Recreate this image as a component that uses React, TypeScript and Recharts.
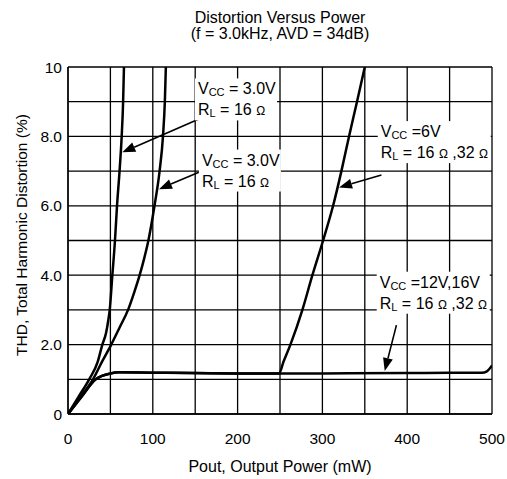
import React from 'react';
import { LineChart, Line, XAxis, YAxis, CartesianGrid, ReferenceDot, ReferenceLine } from 'recharts';

// ---- data (Pout in mW, THD in %) ----
const xTicks = [0, 50, 100, 150, 200, 250, 300, 350, 400, 450, 500];
const yTicks = [0, 1, 2, 3, 4, 5, 6, 7, 8, 9, 10];

const powerA = [0, 12, 25, 35, 40.5, 45, 47.5, 49.2, 52.3, 55.4, 57.8, 60.8, 63.3, 65, 66];
const thdA = [0, 0.48, 1.0, 1.5, 2.0, 2.35, 2.7, 3.0, 4.0, 5.0, 6.0, 7.0, 8.0, 9.0, 10];

const powerB = [0, 15, 29.5, 40, 51, 61, 70.8, 78, 84.5, 90, 94.8, 102, 108, 112, 114.2, 115.4];
const thdB = [0, 0.5, 1.0, 1.5, 2.0, 2.5, 3.0, 3.5, 4.0, 4.5, 5.0, 6.0, 7.0, 8.0, 9.0, 10];

const power6V = [0, 16, 32.7, 40, 50, 60, 100, 150, 200, 249, 254, 262.3, 276.4, 288.2, 300.8, 312.6, 322.4, 331.4, 340.8, 350];
const thd6V = [0, 0.5, 1.0, 1.1, 1.17, 1.2, 1.19, 1.18, 1.17, 1.17, 1.5, 2.0, 3.0, 4.0, 5.0, 6.0, 7.0, 8.0, 9.0, 10];

const power12V = [0, 16, 32.7, 40, 50, 60, 100, 200, 300, 400, 450, 488, 494, 500];
const thd12V = [0, 0.5, 1.0, 1.1, 1.17, 1.2, 1.19, 1.17, 1.17, 1.18, 1.19, 1.19, 1.23, 1.4];

const toPoints = (xs: number[], ys: number[]) => xs.map((x, i) => ({ x, y: ys[i] }));

const seriesA = toPoints(powerA, thdA);
const seriesB = toPoints(powerB, thdB);
const series6V = toPoints(power6V, thd6V);
const series12V = toPoints(power12V, thd12V);

// annotation anchors (data coords of first text baseline start)
const noteX = [153.3, 157.9, 368.8, 367.6];
const noteY = [9.21, 7.16, 7.98, 3.64];
const noteVcc = [' = 3.0V', ' = 3.0V', ' =6V', ' =12V,16V'];
const noteTwoLoads = [false, false, true, true];

// arrows: tail -> tip in data coords
const arrowFrom = [[154.5, 8.5], [155.7, 6.98], [369.6, 6.89], [387.3, 2.56]];
const arrowTo = [[64, 7.54], [107.3, 6.48], [319.6, 6.53], [373.5, 1.24]];

const FONT = '"Liberation Sans", Arial, Helvetica, sans-serif';

const yFmt = (v: number) => (v % 2 !== 0 ? '' : v === 0 ? '0' : v === 10 ? '10' : v.toFixed(1));
const xFmt = (v: number) => (v % 100 === 0 ? String(v) : '');

const Note = (props: any) => {
  const { cx, cy, vcc, two } = props;
  if (cx == null || cy == null) return null;
  const w = two ? 113 : 82;
  return (
    <g>
      <rect x={cx - 3} y={cy - 16} width={w} height={42} fill="#fff" />
      <text x={cx} y={cy} fontSize={16} fill="#000" fontFamily={FONT}>
        V<tspan fontSize={11} dy={2}>CC</tspan>
        <tspan dy={-2}>{vcc}</tspan>
      </text>
      <text x={cx} y={cy + 21} fontSize={16} fill="#000" fontFamily={FONT}>
        R<tspan fontSize={11} dy={2}>L</tspan>
        <tspan dy={-2}>{' = 16 '}</tspan>
        <tspan fontSize={12}>Ω</tspan>
        {two ? <tspan>{' ,32 '}</tspan> : null}
        {two ? <tspan fontSize={12}>Ω</tspan> : null}
      </text>
    </g>
  );
};

const Arrow = (props: any) => {
  const { x1, y1, x2, y2 } = props;
  if ([x1, y1, x2, y2].some((v) => typeof v !== 'number')) return null;
  const dx = x2 - x1;
  const dy = y2 - y1;
  const len = Math.sqrt(dx * dx + dy * dy);
  const ux = dx / len;
  const uy = dy / len;
  const hl = 13;
  const hw = 5;
  const bx = x2 - ux * hl;
  const by = y2 - uy * hl;
  const p1 = `${bx - uy * hw},${by + ux * hw}`;
  const p2 = `${bx + uy * hw},${by - ux * hw}`;
  return (
    <g>
      <line x1={x1} y1={y1} x2={bx} y2={by} stroke="#000" strokeWidth={1.6} />
      <polygon points={`${x2},${y2} ${p1} ${p2}`} fill="#000" />
    </g>
  );
};

export default function App() {
  return (
    <div style={{ position: 'absolute', left: 0, top: 0, width: 507, height: 479, fontFamily: FONT, background: '#fff' }}>
      <div style={{ position: 'absolute', left: 80, width: 400, top: 9.5, textAlign: 'center', fontSize: 16, lineHeight: '16px', color: '#000' }}>
        Distortion Versus Power
        <br />
        (f = 3.0kHz, AVD = 34dB)
      </div>
      <div
        style={{
          position: 'absolute',
          left: 22 - 150,
          top: 235 - 8,
          width: 300,
          height: 16,
          lineHeight: '16px',
          fontSize: 15.5,
          textAlign: 'center',
          transform: 'rotate(-90deg)',
          whiteSpace: 'nowrap',
          color: '#000',
        }}
      >
        THD, Total Harmonic Distortion (%)
      </div>
      <div style={{ position: 'absolute', left: 80, width: 400, top: 466.7 - 7.8, textAlign: 'center', fontSize: 16, lineHeight: '16px', color: '#000' }}>
        Pout, Output Power (mW)
      </div>
      <LineChart width={507} height={479} margin={{ top: 67, right: 15, bottom: 0, left: 0 }}>
        <CartesianGrid stroke="#000" strokeWidth={1.3} />
        <XAxis
          type="number"
          dataKey="x"
          domain={[0, 500]}
          ticks={xTicks}
          interval={0}
          tickFormatter={xFmt}
          tickSize={0}
          tickMargin={19}
          height={65}
          axisLine={{ stroke: '#000', strokeWidth: 1.3 }}
          tick={{ fill: '#000', fontSize: 15.5, fontFamily: FONT }}
          allowDataOverflow
        />
        <YAxis
          type="number"
          domain={[0, 10]}
          ticks={yTicks}
          interval={0}
          tickFormatter={yFmt}
          tickSize={0}
          tickMargin={6}
          width={68}
          axisLine={{ stroke: '#000', strokeWidth: 1.3 }}
          tick={{ fill: '#000', fontSize: 15.5, fontFamily: FONT }}
          allowDataOverflow
        />
        <Line data={series12V} dataKey="y" type="monotone" stroke="#000" strokeWidth={2.5} dot={false} isAnimationActive={false} />
        <Line data={series6V} dataKey="y" type="monotone" stroke="#000" strokeWidth={2.5} dot={false} isAnimationActive={false} />
        <Line data={seriesB} dataKey="y" type="monotone" stroke="#000" strokeWidth={2.5} dot={false} isAnimationActive={false} />
        <Line data={seriesA} dataKey="y" type="monotone" stroke="#000" strokeWidth={2.5} dot={false} isAnimationActive={false} />
        {noteX.map((x, i) => (
          <ReferenceDot
            key={'n' + i}
            x={x}
            y={noteY[i]}
            r={1}
            shape={(p: any) => <Note {...p} vcc={noteVcc[i]} two={noteTwoLoads[i]} />}
          />
        ))}
        {arrowFrom.map((f, i) => (
          <ReferenceLine
            key={'a' + i}
            segment={[
              { x: f[0], y: f[1] },
              { x: arrowTo[i][0], y: arrowTo[i][1] },
            ]}
            shape={(p: any) => <Arrow {...p} />}
          />
        ))}
      </LineChart>
    </div>
  );
}
